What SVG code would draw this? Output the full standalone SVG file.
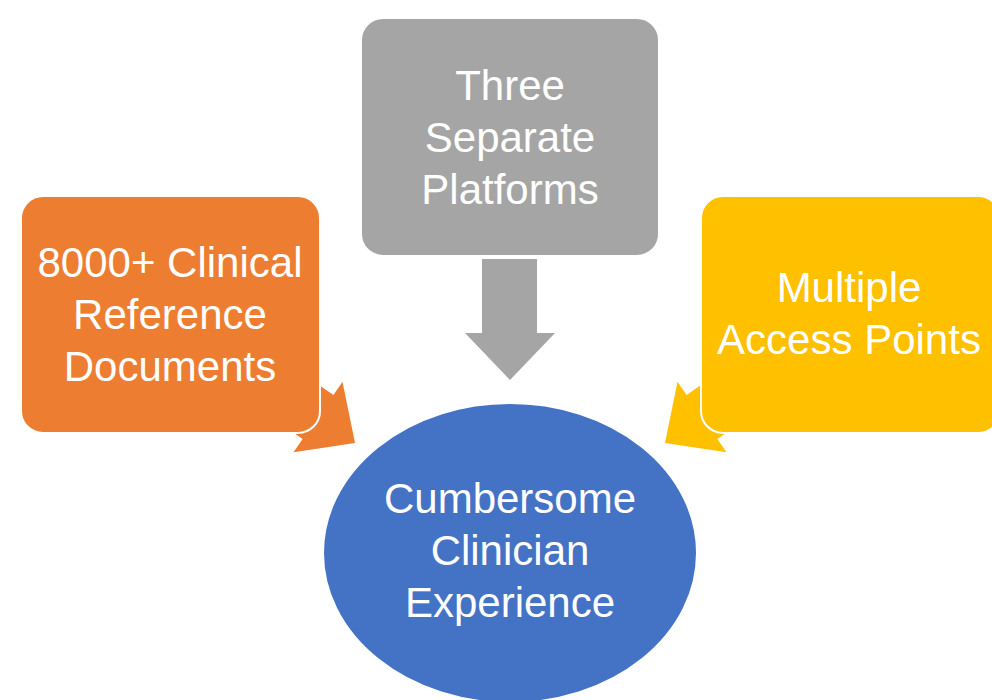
<svg xmlns="http://www.w3.org/2000/svg" width="992" height="700" viewBox="0 0 992 700">
<style>
.box{stroke:#ffffff;stroke-width:2}
.t{font-family:"Liberation Sans",Arial,sans-serif;font-size:42px;fill:#ffffff;text-anchor:middle}
</style>
<rect width="992" height="700" fill="#ffffff"/>
<g id="connectors">
<path d="M482,259 L537,259 L537,333 L555,333 L510,380 L465,333 L482,333 Z" fill="#a5a5a5"/>
<path d="M284.4,360.9 L333.4,394.9 L342.5,381.7 L355,443 L293.5,452.3 L302.6,439.1 L253.6,405.1 Z" fill="#ed7d31"/>
<path d="M735.6,360.9 L686.6,394.9 L677.5,381.7 L665,443 L726.5,452.3 L717.4,439.1 L766.4,405.1 Z" fill="#ffc000"/>
</g>
<g id="node-three">
<rect class="box" x="361" y="18" width="298" height="238" rx="22" fill="#a5a5a5"/>
<text class="t" x="510" y="100">Three</text>
<text class="t" x="510" y="152">Separate</text>
<text class="t" x="510" y="204">Platforms</text>
</g>
<g id="node-clinical">
<rect class="box" x="21" y="196" width="299" height="237" rx="22" fill="#ed7d31"/>
<text class="t" x="170" y="277">8000+ Clinical</text>
<text class="t" x="170" y="329">Reference</text>
<text class="t" x="170" y="381">Documents</text>
</g>
<g id="node-access">
<rect class="box" x="701" y="196" width="299" height="237" rx="22" fill="#ffc000"/>
<text class="t" x="849" y="302">Multiple</text>
<text class="t" x="849" y="354">Access Points</text>
</g>
<g id="node-cumbersome">
<ellipse class="box" cx="510" cy="553" rx="187" ry="150" fill="#4472c4"/>
<text class="t" x="510" y="513">Cumbersome</text>
<text class="t" x="510" y="565">Clinician</text>
<text class="t" x="510" y="617">Experience</text>
</g>
</svg>
